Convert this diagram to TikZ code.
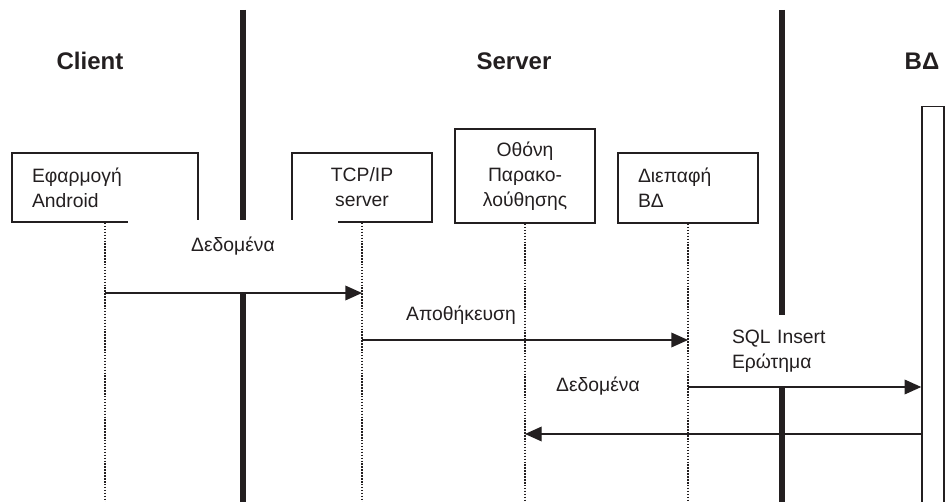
\documentclass[tikz,border=0pt]{standalone}
\usepackage{fontspec}
\setmainfont{Liberation Sans}
\usetikzlibrary{arrows.meta}
\definecolor{ink}{HTML}{231F20}
\tikzset{
  title/.style={font=\fontsize{18}{22}\selectfont\bfseries, text=ink},
  txt/.style={font=\fontsize{14.5}{18.75}\selectfont, text=ink},
  obj/.style={txt, draw=ink, line width=1.4pt, minimum width=105pt,
    minimum height=51.75pt, inner sep=0pt, align=center},
  objleft/.style={obj, align=left, inner xsep=15pt},
  cover/.style={txt, fill=white, inner sep=0pt},
  wall/.style={draw=ink, line width=4pt},
  lifeline/.style={draw=ink, line width=0.9pt, dash pattern=on 1.1pt off 1.1pt},
  msg/.style={draw=ink, line width=1pt, -{Triangle[length=12.5pt,width=11pt]}}
}
\begin{document}
\begin{tikzpicture}[x=0.75pt, y=-0.75pt]
  \useasboundingbox (0,0) rectangle (945,502);
  \clip (0,0) rectangle (945,502);
  \coordinate (top) at (0,10);
  \coordinate (bottom) at (0,502);
  \coordinate (m1) at (0,293);
  \coordinate (m2) at (0,340);
  \coordinate (m3) at (0,387);
  \coordinate (m4) at (0,434);

  \node[title] (client) at (90,61) {Client};
  \node[title] (server) at (514,61) {Server};
  \node[title] (dbtitle) at (922,61) {ΒΔ};

  \draw[wall] (243,10) -- (243,502);
  \draw[wall] (782,10) -- (782,502);

  \node[objleft, minimum width=139.5pt, text width=109.5pt] (android) at (105,187.5) {Εφαρμογή\\Android};
  \node[obj] (tcp) at (362,187.5) {TCP/IP\\server};
  \node[obj, minimum height=70.5pt] (monitor) at (525,176) {Οθόνη\\Παρακο-\\λούθησης};
  \node[objleft, minimum height=52.5pt, text width=75pt] (dbif) at (688,188) {Διεπαφή\\ΒΔ};
  \node[draw=ink, line width=1.1pt, minimum width=16.5pt, minimum height=330pt, inner sep=0pt, anchor=north] (db) at (933,106) {};

  \node[cover, minimum width=157.5pt, text height=24pt, text depth=30.75pt] (data1) at (233,256.5) {Δεδομένα};
  \node[cover, minimum width=141pt, minimum height=54pt, align=left, text width=111pt, inner xsep=15pt] (query) at (806,351) {SQL Insert\\Ερώτημα};
  \node[txt] (store) at (461,315) {Αποθήκευση};
  \node[txt] (data2) at (598,386) {Δεδομένα};

  \draw[lifeline] (android.south) -- (android |- bottom);
  \draw[lifeline] (tcp.south) -- (tcp |- bottom);
  \draw[lifeline] (monitor.south) -- (monitor |- bottom);
  \draw[lifeline] (dbif.south) -- (dbif |- bottom);

  \draw[msg] (android |- m1) -- (tcp |- m1);
  \draw[msg] (tcp |- m2) -- (dbif |- m2);
  \draw[msg] (dbif |- m3) -- (db.west |- m3);
  \draw[msg] (db.west |- m4) -- (monitor |- m4);
\end{tikzpicture}
\end{document}
